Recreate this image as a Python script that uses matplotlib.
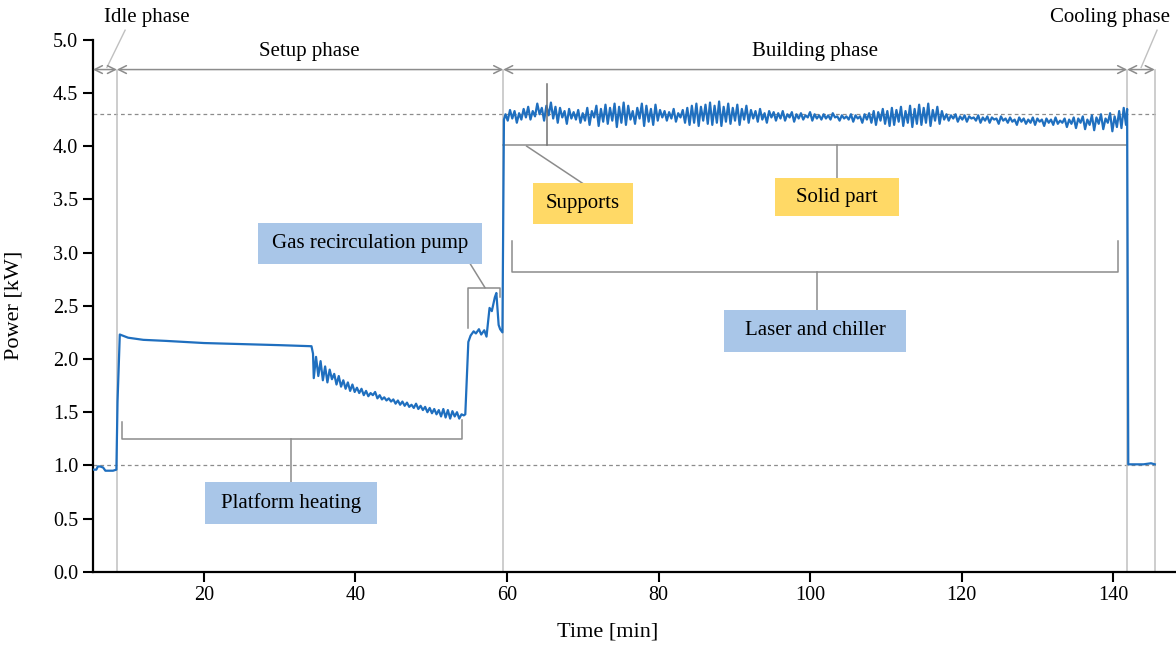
import numpy as np
import matplotlib.pyplot as plt
from matplotlib.patches import Rectangle

plt.rcParams['font.family'] = ['Liberation Serif', 'DejaVu Serif']

# ---- data (time in min, power in kW) ----
idle_t = [5.35, 5.8, 6.0, 6.3, 6.7, 7.0, 7.4, 8.0, 8.45]
idle_p = [0.96, 0.96, 0.99, 0.99, 0.98, 0.95, 0.95, 0.95, 0.96]

heat_t = [8.6, 8.9, 10.0, 12.0, 15.0, 20.0, 25.0, 30.0, 34.2, 34.4]
heat_p = [1.60, 2.23, 2.20, 2.18, 2.17, 2.15, 2.14, 2.13, 2.12, 2.05]

# platform cooling-off part, sampled every 0.3 min from 34.5 min
drop_start, drop_step = 34.5, 0.3
drop_p = [1.82, 2.02, 1.84, 1.98, 1.80, 1.93, 1.78, 1.90, 1.81, 1.86,
          1.76, 1.84, 1.74, 1.80, 1.72, 1.78, 1.70, 1.76, 1.69, 1.73,
          1.68, 1.72, 1.66, 1.70, 1.65, 1.68, 1.66, 1.69, 1.63, 1.66,
          1.62, 1.64, 1.61, 1.63, 1.60, 1.62, 1.58, 1.61, 1.57, 1.60,
          1.56, 1.59, 1.55, 1.57, 1.54, 1.58, 1.53, 1.56, 1.52, 1.55,
          1.50, 1.54, 1.49, 1.53, 1.48, 1.52, 1.46, 1.53, 1.45, 1.52,
          1.44, 1.51, 1.46, 1.50, 1.44, 1.48, 1.47]

pump_t = [54.5, 54.9, 55.2, 55.6, 55.9, 56.3, 56.6, 57.0, 57.3, 57.7,
          58.0, 58.4, 58.6, 58.9, 59.1, 59.4, 59.6]
pump_p = [1.48, 2.16, 2.22, 2.26, 2.24, 2.28, 2.23, 2.27, 2.21, 2.48,
          2.45, 2.58, 2.62, 2.32, 2.28, 2.25, 4.25]

# building phase, sampled every 0.3 min from 59.8 min
build_start, build_step = 59.8, 0.3
build_p = [4.30, 4.24, 4.34, 4.26, 4.33, 4.22, 4.31, 4.25, 4.35, 4.27,
           4.37, 4.25, 4.33, 4.28, 4.40, 4.30, 4.36, 4.24, 4.38, 4.29,
           4.41, 4.26, 4.37, 4.22, 4.36, 4.27, 4.33, 4.21, 4.35, 4.26,
           4.32, 4.25, 4.34, 4.22, 4.31, 4.24, 4.36, 4.20, 4.33, 4.27,
           4.38, 4.19, 4.35, 4.23, 4.39, 4.21, 4.36, 4.24, 4.40, 4.18,
           4.37, 4.22, 4.41, 4.20, 4.38, 4.25, 4.33, 4.21, 4.36, 4.26,
           4.40, 4.19, 4.38, 4.23, 4.35, 4.20, 4.39, 4.24, 4.34, 4.27,
           4.33, 4.24, 4.32, 4.26, 4.35, 4.23, 4.31, 4.27, 4.34, 4.22,
           4.36, 4.20, 4.38, 4.22, 4.40, 4.19, 4.37, 4.24, 4.39, 4.21,
           4.41, 4.20, 4.38, 4.22, 4.42, 4.19, 4.37, 4.23, 4.40, 4.21,
           4.36, 4.24, 4.39, 4.20, 4.35, 4.25, 4.38, 4.22, 4.34, 4.26,
           4.33, 4.23, 4.35, 4.25, 4.31, 4.22, 4.33, 4.27, 4.32, 4.24,
           4.31, 4.26, 4.33, 4.24, 4.30, 4.27, 4.32, 4.23, 4.30, 4.26,
           4.31, 4.25, 4.29, 4.27, 4.32, 4.24, 4.30, 4.26, 4.29, 4.25,
           4.30, 4.26, 4.29, 4.25, 4.31, 4.27, 4.28, 4.24, 4.29, 4.26,
           4.28, 4.25, 4.30, 4.23, 4.29, 4.26, 4.28, 4.22, 4.30, 4.25,
           4.31, 4.22, 4.33, 4.20, 4.32, 4.24, 4.35, 4.21, 4.33, 4.19,
           4.36, 4.20, 4.34, 4.23, 4.37, 4.19, 4.33, 4.22, 4.38, 4.18,
           4.35, 4.21, 4.39, 4.20, 4.36, 4.22, 4.40, 4.19, 4.34, 4.24,
           4.37, 4.21, 4.33, 4.25, 4.30, 4.24, 4.29, 4.26, 4.30, 4.23,
           4.28, 4.25, 4.29, 4.23, 4.28, 4.26, 4.27, 4.24, 4.29, 4.22,
           4.27, 4.24, 4.28, 4.22, 4.27, 4.25, 4.26, 4.21, 4.28, 4.24,
           4.26, 4.22, 4.27, 4.23, 4.25, 4.20, 4.27, 4.23, 4.26, 4.21,
           4.25, 4.22, 4.27, 4.20, 4.26, 4.23, 4.25, 4.19, 4.26, 4.22,
           4.25, 4.20, 4.27, 4.21, 4.24, 4.22, 4.26, 4.18, 4.25, 4.21,
           4.27, 4.17, 4.26, 4.22, 4.28, 4.16, 4.25, 4.20, 4.29, 4.15,
           4.27, 4.21, 4.30, 4.16, 4.26, 4.22, 4.31, 4.14, 4.28, 4.18,
           4.33, 4.17, 4.36, 4.20]

cool_t = [141.85, 142.0, 143.0, 144.0, 145.0, 145.5]
cool_p = [4.35, 1.01, 1.01, 1.01, 1.02, 1.01]

# phase boundaries [min] and reference levels [kW]
phase_edges = [5.35, 8.52, 59.5, 141.85, 145.5]
phase_names = ["Idle phase", "Setup phase", "Building phase", "Cooling phase"]
ref_levels = [1.0, 4.3]

drop_t = drop_start + drop_step * np.arange(len(drop_p))
build_t = build_start + build_step * np.arange(len(build_p))
t = np.concatenate([idle_t, heat_t, drop_t, pump_t, build_t, cool_t])
p = np.concatenate([idle_p, heat_p, drop_p, pump_p, build_p, cool_p])

fig = plt.figure(figsize=(11.76, 6.52), dpi=100)
ax = fig.add_axes([0.079, 0.123, 0.921, 0.816])

GRAY = '#8c8c8c'
LIGHT = '#c0c0c0'
BLUE_BOX = '#a9c6e8'
YELLOW_BOX = '#ffd966'

# reference levels
for lev in ref_levels:
    ax.plot([phase_edges[0], phase_edges[-1] + 0.1], [lev, lev], color=GRAY,
            lw=0.9, ls=(0, (3, 2.5)), zorder=1)

# phase boundary lines
for x in phase_edges[1:]:
    ax.plot([x, x], [0, 4.72], color=LIGHT, lw=1.1, zorder=1, clip_on=False)

# phase arrows
ytop = 4.72
for a, b in zip(phase_edges[:-1], phase_edges[1:]):
    ax.annotate('', xy=(a, ytop), xytext=(b, ytop),
                arrowprops=dict(arrowstyle='<->', color=GRAY, lw=1.1,
                                mutation_scale=14, shrinkA=0, shrinkB=0),
                annotation_clip=False)

fs = 15
ax.text(12.5, 5.21, phase_names[0], ha='center', va='center', fontsize=fs, clip_on=False)
ax.plot([9.6, 7.2], [5.09, 4.74], color=LIGHT, lw=1, clip_on=False)
ax.text(33.9, 4.89, phase_names[1], ha='center', va='center', fontsize=fs)
ax.text(100.7, 4.89, phase_names[2], ha='center', va='center', fontsize=fs)
ax.text(139.6, 5.21, phase_names[3], ha='center', va='center', fontsize=fs, clip_on=False)
ax.plot([145.8, 143.7], [5.09, 4.74], color=LIGHT, lw=1, clip_on=False)

# the power curve
ax.plot(t, p, color='#1f6fbf', lw=1.6, zorder=3)


def box(x0, x1, y0, y1, color, label):
    ax.add_patch(Rectangle((x0, y0), x1 - x0, y1 - y0, facecolor=color,
                           edgecolor='none', zorder=4))
    ax.text((x0 + x1) / 2, (y0 + y1) / 2, label, ha='center', va='center',
            fontsize=15, zorder=5)


lk = dict(color=GRAY, lw=1.1, zorder=2)
# platform heating
ax.plot([9.2, 9.2, 54.1, 54.1], [1.41, 1.25, 1.25, 1.43], **lk)
ax.plot([31.5, 31.5], [1.25, 0.84], **lk)
box(20.1, 42.8, 0.45, 0.84, BLUE_BOX, "Platform heating")
# gas recirculation pump
ax.plot([54.85, 54.85, 59.1, 59.1], [2.29, 2.67, 2.67, 2.58], **lk)
ax.plot([57.1, 55.1], [2.67, 2.90], **lk)
box(27.1, 56.7, 2.89, 3.28, BLUE_BOX, "Gas recirculation pump")
# supports / solid part
ax.plot([59.5, 141.85], [4.01, 4.01], **lk)
ax.plot([65.3, 65.3], [4.01, 4.58], color='#707070', lw=1.1, zorder=4)
ax.plot([62.6, 70.0], [4.0, 3.65], **lk)
box(63.4, 76.6, 3.27, 3.65, YELLOW_BOX, "Supports")
ax.plot([103.6, 103.6], [4.01, 3.70], **lk)
box(95.4, 111.8, 3.34, 3.70, YELLOW_BOX, "Solid part")
# laser and chiller
ax.plot([60.7, 60.7, 140.7, 140.7], [3.11, 2.82, 2.82, 3.11], **lk)
ax.plot([100.9, 100.9], [2.82, 2.46], **lk)
box(88.6, 112.7, 2.07, 2.46, BLUE_BOX, "Laser and chiller")

ax.set_xlim(5.35, 148.3)
ax.set_ylim(0, 5)
ax.set_xticks([20, 40, 60, 80, 100, 120, 140])
ax.set_yticks(np.arange(0, 5.01, 0.5))
ax.yaxis.set_major_formatter(plt.FormatStrFormatter('%.1f'))
ax.tick_params(direction='out', length=7, width=1.5, labelsize=14.5, colors='black')
for s in ['top', 'right']:
    ax.spines[s].set_visible(False)
for s in ['left', 'bottom']:
    ax.spines[s].set_linewidth(1.6)

ax.set_xlabel("Time [min]", fontsize=16)
ax.set_ylabel("Power [kW]", fontsize=16)
ax.xaxis.set_label_coords(0.475, -0.095)
ax.yaxis.set_label_coords(-0.064, 0.5)

fig.savefig("out.png", dpi=100)
